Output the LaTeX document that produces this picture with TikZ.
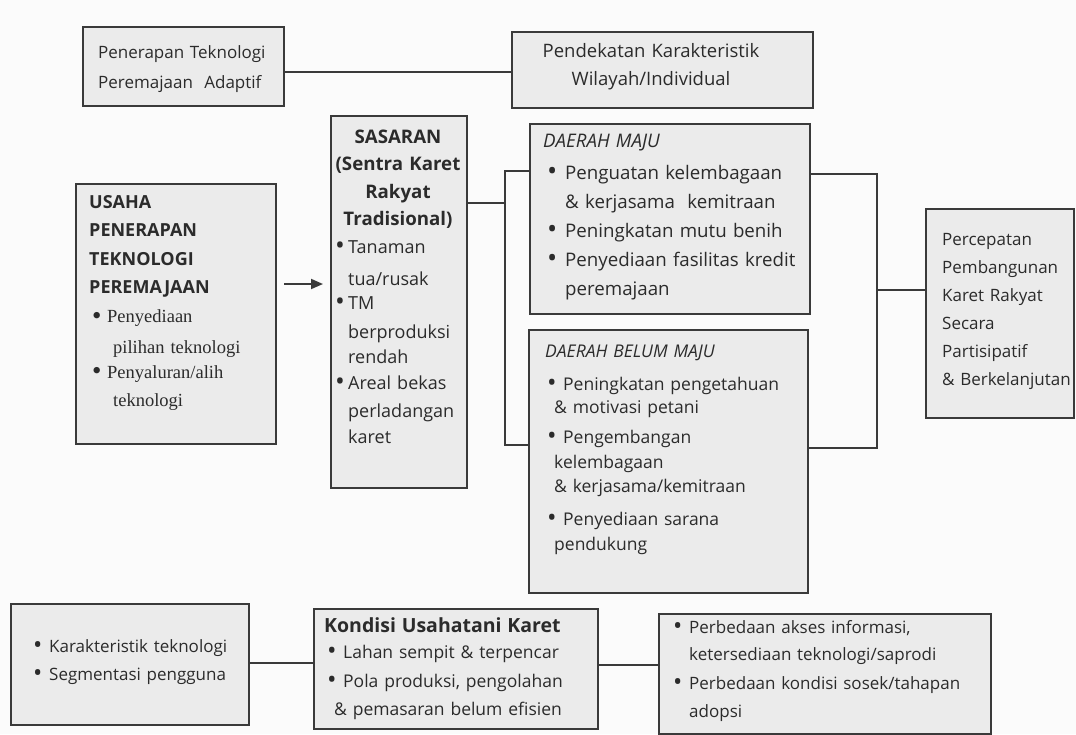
\documentclass[tikz,border=0pt]{standalone}
\usepackage{fontspec}
\setmainfont{Open Sans}
\newfontfamily\seriff{Liberation Serif}
\usetikzlibrary{arrows.meta,calc}
\definecolor{boxfill}{HTML}{EBEBEB}
\definecolor{boxline}{HTML}{3A3A3A}
\definecolor{ink}{HTML}{2B2B2B}
\definecolor{paper}{HTML}{FBFBFB}
\newcommand{\itm}[2]{\hspace*{#1}\makebox[#2][l]{\raisebox{-0.1em}{\scalebox{1.45}{\textbullet}}}}
\newcommand{\cnt}[1]{\hspace*{#1}}
\begin{document}
\begin{tikzpicture}[x=1pt,y=-1pt,
  boxst/.style={draw=boxline, fill=boxfill, line width=2pt, inner sep=0pt, anchor=north west},
  txt/.style={anchor=base west, inner sep=0pt, text=ink, align=left},
  ctxt/.style={anchor=base, inner sep=0pt, text=ink, align=center},
  link/.style={draw=boxline, line width=1.8pt}]
\fill[paper] (0,0) rectangle (1076,734);
\useasboundingbox (0,0) rectangle (1076,734);
% boxes
\node[boxst, minimum width=201pt, minimum height=79pt] (A) at (82,26) {};
\node[boxst, minimum width=301pt, minimum height=76pt] (B) at (511,31) {};
\node[boxst, minimum width=200pt, minimum height=260pt] (U) at (75,183) {};
\node[boxst, minimum width=136pt, minimum height=372pt] (S) at (330,115) {};
\node[boxst, minimum width=280pt, minimum height=190pt] (DM) at (529,123) {};
\node[boxst, minimum width=279pt, minimum height=263pt] (DBM) at (528,329) {};
\node[boxst, minimum width=148pt, minimum height=209pt] (F) at (925,208) {};
\node[boxst, minimum width=238pt, minimum height=121pt] (L) at (10,603) {};
\node[boxst, minimum width=284pt, minimum height=120pt] (K) at (313,608) {};
\node[boxst, minimum width=332pt, minimum height=120pt] (P) at (658,613) {};
% connector levels
\coordinate (yAB) at (0,72);
\coordinate (yArr) at (0,284);
\coordinate (jl) at (505,203);
\coordinate (jlt) at (505,171);
\coordinate (jlb) at (505,445);
\coordinate (jrt) at (877,174);
\coordinate (jrb) at (877,448);
\coordinate (jr) at (877,290);
\coordinate (yLK) at (0,663);
\coordinate (yKP) at (0,665);
% connectors
\draw[link] (A.east |- yAB) -- (B.west |- yAB);
\draw[link, -{Triangle[length=12pt,width=10pt]}, shorten <=7pt, shorten >=7pt] (U.east |- yArr) -- (S.west |- yArr);
\draw[link] (S.east |- jl) -- (jl);
\draw[link] (DM.west |- jlt) -- (jlt) -- (jlb) -- (DBM.west |- jlb);
\draw[link] (DM.east |- jrt) -- (jrt) -- (jrb) -- (DBM.east |- jrb);
\draw[link] (jr) -- (F.west |- jr);
\draw[link] (L.east |- yLK) -- (K.west |- yLK);
\draw[link] (K.east |- yKP) -- (P.west |- yKP);
% texts
\node[txt, text width=190pt, font=\fontsize{17}{30}\selectfont] (tA) at (98,58)
  {Penerapan Teknologi\\Peremajaan\ \ Adaptif};
\node[ctxt, text width=290pt, font=\fontsize{18.5}{28}\selectfont] (tB) at (651,57)
  {Pendekatan Karakteristik\\Wilayah/Individual};
\node[txt, text width=185pt, font=\fontsize{18}{28.5}\selectfont] (tU) at (89,208)
  {\textbf{USAHA}\\\textbf{PENERAPAN}\\\textbf{TEKNOLOGI}\\\textbf{PEREMAJAAN}\\[0.5pt]
   {\seriff\fontsize{18.5}{28.5}\selectfont
   \itm{3pt}{15pt}Penyediaan\\[2.5pt]
   \cnt{24pt}pilihan teknologi\\[-4pt]
   \itm{3pt}{15pt}Penyaluran/alih\\
   \cnt{24pt}teknologi}};
\node[ctxt, text width=136pt, font=\bfseries\fontsize{18.7}{27.5}\selectfont] (tS1) at (398,143)
  {SASARAN\\(Sentra Karet\\Rakyat\\Tradisional)};
\node[txt, text width=130pt, font=\fontsize{18}{27.5}\selectfont] (tS2) at (335,253)
  {\itm{0pt}{13pt}Tanaman\\[4.5pt]
   \cnt{13pt}tua/rusak\\[-3.5pt]
   \itm{0pt}{13pt}TM\\[1.5pt]
   \cnt{13pt}berproduksi\\[-2.5pt]
   \cnt{13pt}rendah\\[-1.5pt]
   \itm{0pt}{13pt}Areal bekas\\[0.5pt]
   \cnt{13pt}perladangan\\[-1.5pt]
   \cnt{13pt}karet};
\node[txt, text width=270pt, font=\fontsize{18.7}{29}\selectfont] (tDM) at (543,147)
  {\textit{DAERAH MAJU}\\[3pt]
   \itm{4pt}{18pt}Penguatan kelembagaan\\
   \cnt{22pt}\& kerjasama\ \ kemitraan\\
   \itm{4pt}{18pt}Peningkatan mutu benih\\
   \itm{4pt}{18pt}Penyediaan fasilitas kredit\\
   \cnt{22pt}peremajaan};
\node[txt, text width=260pt, font=\fontsize{17.5}{26.5}\selectfont] (tDBM) at (545,357)
  {\textit{DAERAH BELUM MAJU}\\[6.5pt]
   \itm{2pt}{16pt}Peningkatan pengetahuan\\[-3.5pt]
   \cnt{9pt}\& motivasi petani\\[3.5pt]
   \itm{2pt}{16pt}Pengembangan\\[-1.5pt]
   \cnt{9pt}kelembagaan\\[-2.5pt]
   \cnt{9pt}\& kerjasama/kemitraan\\[6.5pt]
   \itm{2pt}{16pt}Penyediaan sarana\\[-1.5pt]
   \cnt{9pt}pendukung};
\node[txt, text width=140pt, font=\fontsize{17}{28}\selectfont] (tF) at (942,245)
  {Percepatan\\Pembangunan\\Karet Rakyat\\Secara\\Partisipatif\\\& Berkelanjutan};
\node[txt, text width=220pt, font=\fontsize{17}{28}\selectfont] (tL) at (33,652)
  {\itm{0pt}{16pt}Karakteristik teknologi\\
   \itm{0pt}{16pt}Segmentasi pengguna};
\node[txt, text width=280pt, font=\fontsize{17.5}{28}\selectfont] (tK) at (324,632)
  {{\bfseries\fontsize{19.5}{28}\selectfont Kondisi Usahatani Karet}\\[-2pt]
   \itm{3pt}{16pt}Lahan sempit \& terpencar\\[1pt]
   \itm{3pt}{16pt}Pola produksi, pengolahan\\
   \cnt{10pt}\& pemasaran belum efisien};
\node[txt, text width=320pt, font=\fontsize{17}{28}\selectfont] (tP) at (673,633)
  {\itm{0pt}{16pt}Perbedaan akses informasi,\\[-1pt]
   \cnt{16pt}ketersediaan teknologi/saprodi\\[1pt]
   \itm{0pt}{16pt}Perbedaan kondisi sosek/tahapan\\
   \cnt{16pt}adopsi};
\end{tikzpicture}
\end{document}
